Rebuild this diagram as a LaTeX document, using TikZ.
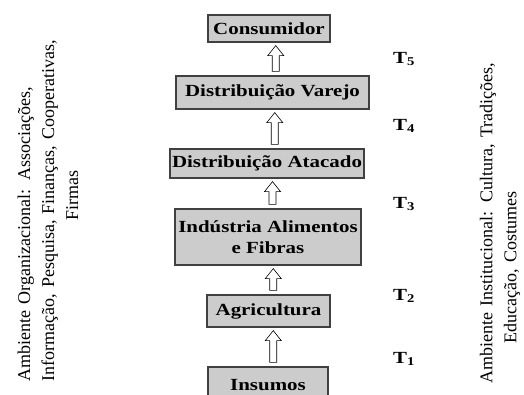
\documentclass[tikz,border=0pt]{standalone}
\usepackage{fontspec}
\setmainfont{Liberation Serif}
\newfontfamily\negrito{Liberation Serif}[FakeStretch=1.23]
\usepackage{tikz}
\usetikzlibrary{calc}

\tikzset{
  caixa/.style={draw=black!75, line width=1.2pt, fill=gray!40, inner sep=0pt, align=center,
    font=\negrito\bfseries\fontsize{17}{21}\selectfont},
  tempo/.style={anchor=base west, inner sep=0pt, font=\negrito\bfseries\fontsize{17}{21}\selectfont},
  lateral/.style={rotate=90, inner sep=0pt, align=left, font=\fontsize{18}{24}\selectfont},
  seta/.style={draw=black, line width=0.6pt, fill=white, to path={
    let \p1=(\tikztostart), \p2=(\tikztotarget), \n1={0.5*\x1+0.5*\x2+5pt} in
    (\n1-3.5pt,\y1+4pt) -- (\n1-3.5pt,\y2-13pt) -- (\n1-8pt,\y2-13pt) -- (\n1,\y2-3pt)
    -- (\n1+8pt,\y2-13pt) -- (\n1+3.5pt,\y2-13pt) -- (\n1+3.5pt,\y1+4pt) -- cycle}}
}

\begin{document}
\begin{tikzpicture}[x=1pt,y=-1pt]
	\clip (0,0) rectangle (524,394);
	\fill[white] (0,0) rectangle (524,394);
	
	% cadeia
	\node[caixa, minimum width=122pt, minimum height=27pt] (cons) at (269,28.5) {Consumidor};
	\node[caixa, minimum width=193pt, minimum height=33pt] (varejo) at (272.5,92.5) {Distribuição Varejo};
	\node[caixa, minimum width=194pt, minimum height=29pt] (atacado) at (267,163.5) {Distribuição Atacado};
	\node[caixa, minimum width=186pt, minimum height=56pt] (ind) at (268,237) {Indústria Alimentos\\ e Fibras};
	\node[caixa, minimum width=123pt, minimum height=32pt] (agri) at (268.5,311) {Agricultura};
	\node[caixa, minimum width=120pt, minimum height=36pt] (ins) at (268,385) {Insumos};
	
	\draw[seta] (varejo.north) to (cons.south);
	\draw[seta] (atacado.north) to (varejo.south);
	\draw[seta] (ind.north) to (atacado.south);
	\draw[seta] (agri.north) to (ind.south);
	\draw[seta] (ins.north) to (agri.south);
	
	% transacoes
	\node[tempo] (t5) at (393,63.3) {T\textsubscript{5}};
	\node[tempo] (t4) at (393,130) {T\textsubscript{4}};
	\node[tempo] (t3) at (393,208) {T\textsubscript{3}};
	\node[tempo] (t2) at (393,300) {T\textsubscript{2}};
	\node[tempo] (t1) at (393,363) {T\textsubscript{1}};
	
	% ambientes
	\node[lateral, text width=371pt] (org) at (48,195.5) {Ambiente Organizacional: Associações,\\
		\makebox[\linewidth][s]{Informação, Pesquisa, Finanças, Cooperativas,}\\
		\makebox[\linewidth]{Firmas}};
	\node[lateral, text width=358pt] (inst) at (500,204) {\makebox[\linewidth][s]{Ambiente Institucional: Cultura, Tradições,}\\
		\hspace*{40pt}Educação, Costumes};
\end{tikzpicture}
\end{document}
